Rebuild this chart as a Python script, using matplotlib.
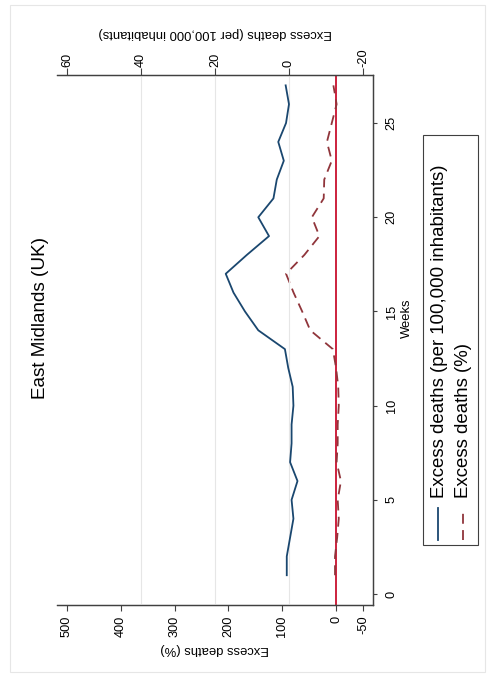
import matplotlib
matplotlib.use('Agg')
import matplotlib.pyplot as plt
from matplotlib.lines import Line2D
from matplotlib.patches import Rectangle

plt.rcParams['font.family'] = ['Liberation Sans', 'DejaVu Sans']

# data
weeks = list(range(1, 28))
per100k = [0.6, 0.6, -0.3, -1.2, -0.7, -2.3, -0.3, -0.7, -0.7, -1.2, -1.0, 0.2, 1.1,
           8.3, 11.9, 15.0, 17.1, 11.4, 5.4, 8.3, 4.2, 3.3, 1.4, 2.9, 0.8, 0.0, 0.9]
pct = [2, 2, -2, -5, -3, -9, -1, -3, -3, -5, -4, 0, 6,
       48, 63, 79, 93, 59, 31, 45, 23, 22, 8, 17, 8, -1, 5]

pct_ticks = [500, 400, 300, 200, 100, 0, -50]
per_ticks = [60, 40, 20, 0, -20]
grid_vals = [40, 20, 0]
week_ticks = [0, 5, 10, 15, 20, 25]

title = 'East Midlands (UK)'
lab_pct = 'Excess deaths (%)'
lab_per = 'Excess deaths (per 100,000 inhabitants)'

navy = '#1a476f'
maroon = '#90353b'
red = '#c8102e'
spine = '#404040'

W, H = 492, 675
fig = plt.figure(figsize=(W / 100, H / 100), dpi=100)
fig.patch.set_facecolor('white')

def fx(x):
    return x / W

def fy(y):
    return 1 - y / H

# whole chart is drawn turned by 90 degrees
ax = fig.add_axes([fx(57), fy(605), fx(373) - fx(57), fy(75) - fy(605)])
ax.set_xlim(518.6, -68.6)
ax.set_ylim(-0.58, 27.55)
ax2 = ax.twiny()
ax2.set_xlim(62.71, -22.71)

for v in grid_vals:
    ax2.axvline(v, color='#e6e6e6', lw=0.8, zorder=0)

ax.axvline(0, color=red, lw=1.3, zorder=2)
ax.plot(pct, weeks, color=maroon, lw=1.3, ls=(0, (5.5, 3.5)), zorder=3)
ax2.plot(per100k, weeks, color=navy, lw=1.3, zorder=3)

ax.set_xticks(pct_ticks)
ax.set_xticklabels([str(t) for t in pct_ticks], rotation=90)
ax2.set_xticks(per_ticks)
ax2.set_xticklabels([str(t) for t in per_ticks], rotation=90)
ax.set_yticks(week_ticks)
ax.set_yticklabels([str(t) for t in week_ticks], rotation=90, va='center')
ax.yaxis.tick_right()

ax.tick_params(axis='x', length=4.5, width=0.8, color=spine, pad=3, labelsize=9.2)
ax2.tick_params(axis='x', length=5, width=0.8, color=spine, pad=1, labelsize=9.2)
ax.tick_params(axis='y', length=3, width=0.8, color=spine, pad=6, labelsize=9.2)

for a in (ax, ax2):
    a.spines['left'].set_visible(False)
    for s in ('bottom', 'top', 'right'):
        a.spines[s].set_color(spine)
        a.spines[s].set_linewidth(0.9)
ax.patch.set_alpha(0)

# texts
fig.text(fx(41), fy(318), title, rotation=90, ha='center', va='center', fontsize=13.6)
fig.text(fx(215), fy(33), lab_per, rotation=180, ha='center', va='center', fontsize=9.4)
fig.text(fx(215), fy(649), lab_pct, rotation=180, ha='center', va='center', fontsize=9.4)
fig.text(fx(407), fy(318), 'Weeks', rotation=90, ha='center', va='center', fontsize=9.4)

# legend box, turned
fig.patches.append(Rectangle((fx(423), fy(545)), fx(478) - fx(423), fy(135) - fy(545),
                             transform=fig.transFigure, fill=False, ec=spine, lw=0.8))
fig.lines.append(Line2D([fx(438), fx(438)], [fy(540), fy(508)], transform=fig.transFigure,
                        color=navy, lw=1.3))
fig.lines.append(Line2D([fx(463), fx(463)], [fy(540), fy(508)], transform=fig.transFigure,
                        color=maroon, lw=1.3, ls=(0, (5.5, 3.5))))
fig.text(fx(439), fy(498), lab_per, rotation=90, rotation_mode='anchor',
         ha='left', va='center', fontsize=13.4)
fig.text(fx(464), fy(498), lab_pct, rotation=90, rotation_mode='anchor',
         ha='left', va='center', fontsize=13.4)

# faint outer frame
fig.patches.append(Rectangle((fx(10), fy(672)), fx(485) - fx(10), fy(5) - fy(672),
                             transform=fig.transFigure, fill=False, ec='#e6e6e6', lw=0.8))

fig.savefig('out.png', dpi=100, facecolor='white')
